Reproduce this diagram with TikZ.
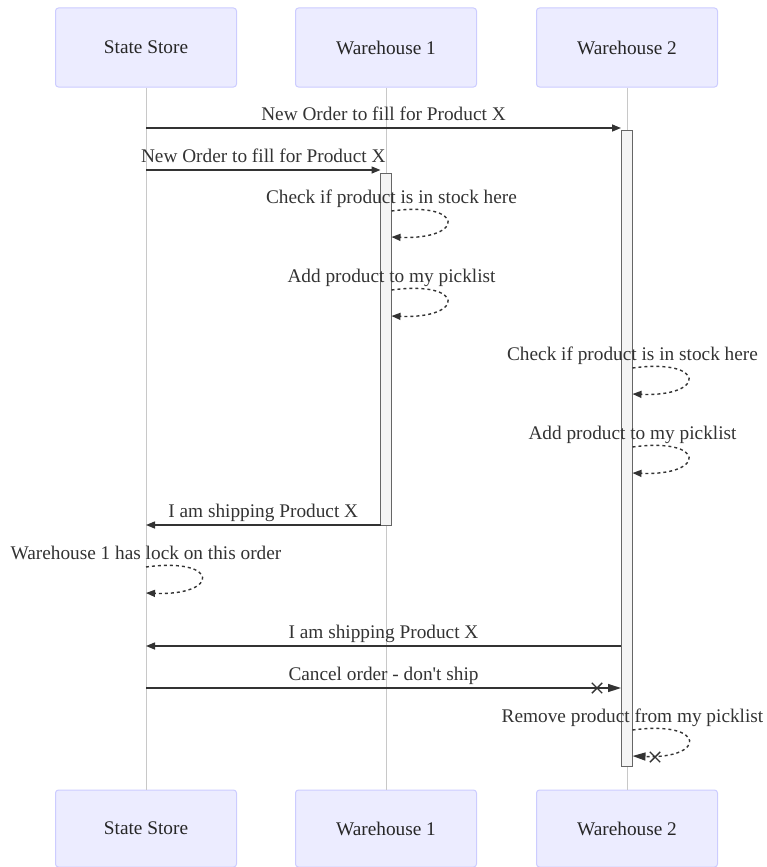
\documentclass[tikz,border=0pt]{standalone}
\usepackage{fontspec}
\setmainfont{Liberation Serif}
\usetikzlibrary{arrows.meta,shapes.misc}

\definecolor{actorfill}{HTML}{ECECFF}
\definecolor{actorline}{HTML}{CCCCFF}
\definecolor{lifegray}{HTML}{C8C8C8}
\definecolor{msgdark}{HTML}{333333}
\definecolor{barfill}{HTML}{F4F4F4}
\definecolor{barline}{HTML}{666666}

\tikzset{
  actor/.style={draw=actorline,fill=actorfill,line width=1pt,rounded corners=3pt,
    minimum width=181pt,minimum height=79pt,font=\rmfamily\fontsize{19.3}{21}\selectfont,text=black!85},
  life/.style={draw=lifegray,line width=0.8pt},
  actbar/.style={draw=barline,fill=barfill,line width=0.8pt,minimum width=11pt,inner sep=0pt},
  msg/.style={draw=msgdark,line width=1.4pt,-{Triangle[length=9pt,width=7pt]}},
  bigtip/.style={draw=msgdark,line width=1.4pt,-{Triangle[length=13pt,width=8pt]}},
  selfmsg/.style={msg,dash pattern=on 3pt off 3pt},
  lbl/.style={font=\rmfamily\fontsize{19.3}{21}\selectfont,text=msgdark,anchor=base,inner sep=0pt},
  xmark/.style={cross out,draw=msgdark,line width=1.4pt,minimum size=9pt,inner sep=0pt}
}

\begin{document}
\begin{tikzpicture}[x=1pt,y=-1pt]
  \useasboundingbox (0,0) rectangle (767,867);

  \draw (146,47.5) node[actor] (ssTop) {State Store};
  \draw (386,47.5) node[actor] (waTop) {Warehouse 1};
  \draw (627,47.5) node[actor] (wbTop) {Warehouse 2};
  \draw (146,828.5) node[actor,minimum height=77pt] (ssBot) {State Store};
  \draw (386,828.5) node[actor,minimum height=77pt] (waBot) {Warehouse 1};
  \draw (627,828.5) node[actor,minimum height=77pt] (wbBot) {Warehouse 2};

  \path (ssTop) edge[life] (ssBot);
  \path (waTop) edge[life] (waBot);
  \path (wbTop) edge[life] (wbBot);

  \draw (386,349) node[actbar,minimum height=352pt] (waBar) {};
  \draw (627,448.5) node[actbar,minimum height=636pt] (wbBar) {};

  % ends of the messages
  \coordinate (o1) at (146,128);   \coordinate (i1) at (621,128);
  \coordinate (o2) at (146,170);   \coordinate (i2) at (380.5,170);
  \coordinate (s3) at (391.5,211); \coordinate (e3) at (391.5,237);
  \coordinate (s4) at (391.5,290); \coordinate (e4) at (391.5,316);
  \coordinate (s5) at (632.5,368); \coordinate (e5) at (632.5,394);
  \coordinate (s6) at (632.5,447); \coordinate (e6) at (632.5,473);
  \coordinate (o7) at (380.5,525); \coordinate (i7) at (146,525);
  \coordinate (s8) at (146,567);   \coordinate (e8) at (146,593);
  \coordinate (o9) at (621,646);   \coordinate (i9) at (146,646);
  \coordinate (o10) at (146,688);  \coordinate (i10) at (621,688);
  \coordinate (s11) at (632.5,730); \coordinate (e11) at (632.5,756);

  \path (o1) edge[msg] node[lbl,yshift=8pt] {New Order to fill for Product X} (i1);
  \path (o2) edge[msg] node[lbl,yshift=8pt] {New Order to fill for Product X} (i2);
  \draw[selfmsg] (s3) node[lbl,yshift=8pt] {Check if product is in stock here}
    .. controls +(74,-10) and +(74,3) .. (e3);
  \draw[selfmsg] (s4) node[lbl,yshift=8pt] {Add product to my picklist}
    .. controls +(74,-10) and +(74,3) .. (e4);
  \draw[selfmsg] (s5) node[lbl,yshift=8pt] {Check if product is in stock here}
    .. controls +(74,-10) and +(74,3) .. (e5);
  \draw[selfmsg] (s6) node[lbl,yshift=8pt] {Add product to my picklist}
    .. controls +(74,-10) and +(74,3) .. (e6);
  \path (o7) edge[msg] node[lbl,yshift=8pt] {I am shipping Product X} (i7);
  \draw[selfmsg] (s8) node[lbl,yshift=8pt] {Warehouse 1 has lock on this order}
    .. controls +(74,-10) and +(74,3) .. (e8);
  \path (o9) edge[msg] node[lbl,yshift=8pt] {I am shipping Product X} (i9);
  \path (o10) edge[bigtip] node[lbl,yshift=8pt] {Cancel order - don\textquotesingle t ship} (i10);
  \draw (597,688) node[xmark] (x10) {};
  \draw[bigtip,dash pattern=on 3pt off 3pt] (s11) node[lbl,yshift=8pt] {Remove product from my picklist}
    .. controls +(74,-10) and +(74,3) .. (e11);
  \draw (655,757) node[xmark] (x11) {};

\end{tikzpicture}
\end{document}
